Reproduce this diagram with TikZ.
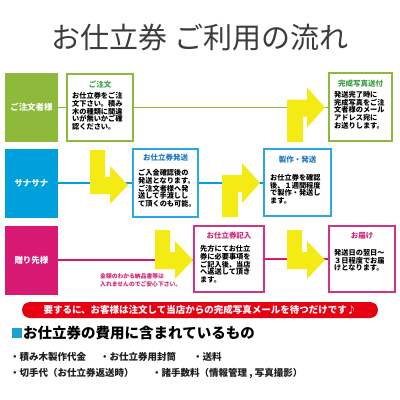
\documentclass[tikz,border=0pt]{standalone}
\usepackage{fontspec}
\setmainfont{Noto Sans CJK JP}
\definecolor{cgreen}{RGB}{141,186,58}
\definecolor{cgreenb}{RGB}{141,186,58}
\definecolor{cgreent}{RGB}{60,160,70}
\definecolor{cblue}{RGB}{0,160,220}
\definecolor{cblueb}{RGB}{40,170,225}
\definecolor{cbluet}{RGB}{30,120,190}
\definecolor{cmag}{RGB}{215,25,115}
\definecolor{cmagb}{RGB}{210,50,130}
\definecolor{cmagt}{RGB}{210,40,120}
\definecolor{cyel}{RGB}{245,235,20}
\definecolor{cred}{RGB}{230,0,18}
\definecolor{csq}{RGB}{30,160,210}
\definecolor{ctitle}{RGB}{60,60,60}
\definecolor{clist}{RGB}{30,30,30}
\newcommand\arrdown[3]{% stem left x, stem top y, centre y
  \fill[cyel] (#1,#2) -- (#1,{#3+9}) -- ({#1+20},{#3+9}) -- ({#1+20},{#3+19}) -- ({#1+38},#3) -- ({#1+20},{#3-19}) -- ({#1+20},{#3-8}) -- ({#1+15},{#3-8}) -- ({#1+15},#2) -- cycle;}
\newcommand\arrup[3]{% stem left x, stem bottom y, centre y
  \fill[cyel] (#1,#2) -- (#1,{#3-8}) -- ({#1+20},{#3-8}) -- ({#1+20},{#3-20}) -- ({#1+38},#3) -- ({#1+20},{#3+20}) -- ({#1+20},{#3+9}) -- ({#1+16},{#3+9}) -- ({#1+16},#2) -- cycle;}
\begin{document}
\begin{tikzpicture}[x=1pt,y=-1pt,
  lab/.style={rectangle, inner sep=0, text=white, font=\bfseries\fontsize{8.5}{10}\selectfont, minimum width=53pt, minimum height=69pt},
  box/.style={rectangle, line width=1.8pt, fill=white, inner sep=0},
  ttl/.style={font=\bfseries\fontsize{7.5}{9}\selectfont, inner sep=0},
  bodytxt/.style={font=\bfseries\fontsize{7.2}{7.8}\selectfont, align=left, inner sep=0, anchor=north west, text=black},
  gline/.style={draw=cgreen, line width=1.4pt},
  bline/.style={draw=cblue, line width=1.4pt},
  mline/.style={draw=cmag, line width=1.4pt},
  listtxt/.style={font=\bfseries\fontsize{9.5}{11}\selectfont, text=clist, anchor=west, inner sep=0}]
\useasboundingbox (0,0) rectangle (400,400);
\fill[white] (0,0) rectangle (400,400);
% title
\node[font=\fontsize{29}{32}\selectfont, text=ctitle, inner sep=0] (title) at (200,38) {お仕立券 ご利用の流れ};
% labels
\node[lab, fill=cgreen] (l1) at (31.5,107.5) {ご注文者様};
\node[lab, fill=cblue] (l2) at (31.5,183) {サナサナ};
\node[lab, fill=cmag] (l3) at (31.5,260) {贈り先様};
% boxes (shapes only, for connectors)
\node[box, draw=cgreenb, minimum width=66pt, minimum height=67pt] (b1) at (100,107.5) {};
\node[box, draw=cgreenb, minimum width=63pt, minimum height=68pt] (b2) at (360.5,107) {};
\node[box, draw=cblueb, minimum width=65pt, minimum height=68pt] (b3) at (165.5,183) {};
\node[box, draw=cblueb, minimum width=67pt, minimum height=67pt] (b4) at (297.5,182.5) {};
\node[box, draw=cmagb, minimum width=70pt, minimum height=66pt] (b5) at (229,259) {};
\node[box, draw=cmagb, minimum width=66pt, minimum height=66pt] (b6) at (362,259) {};
% connectors
\draw[gline] (l1.east) -- (l1.east -| b1.west);
\draw[gline] (b1.east) -- (b1.east -| b2.west);
\draw[bline] (l2.east) -- (l2.east -| b3.west);
\draw[bline] (b3.east) -- (b3.east -| b4.west);
\draw[mline] (l3.east) -- (l3.east -| b5.west);
\draw[mline] (b5.east) -- (b5.east -| b6.west);
% yellow turn arrows
\arrup{287}{142}{107.5}
\arrdown{90}{150}{185}
\arrup{222}{217}{183}
\arrdown{155}{230}{260}
\arrdown{287}{230}{260}
% box titles
\node[ttl, text=cgreent] (t1) at (100,85) {ご注文};
\node[ttl, text=cgreent] (t2) at (360.5,84) {完成写真送付};
\node[ttl, text=cbluet] (t3) at (165.5,158) {お仕立券発送};
\node[ttl, text=cbluet] (t4) at (297.5,160) {製作・発送};
\node[ttl, text=cmagt] (t5) at (229,236) {お仕立券記入};
\node[ttl, text=cmagt] (t6) at (362,236) {お届け};
% box bodies
\node[bodytxt] (x1) at (72,92) {お仕立券をご注\\文下さい。積み\\木の種類に間違\\いが無いかご確\\認ください。};
\node[bodytxt] (x2) at (334,91) {発送完了時に\\完成写真をご注\\文者様のメール\\アドレス宛に\\お送りします。};
\node[bodytxt] (x3) at (138,169) {ご入金確認後の\\発送となります。\\ご注文者様へ発\\送して手渡しし\\て頂くのも可能。};
\node[bodytxt] (x4) at (270,174) {お仕立券を確認\\後、１週間程度\\で製作・発送し\\ます。};
\node[bodytxt] (x5) at (200,245) {先方にてお仕立\\券に必要事項を\\ご記入後、当店\\へ返送して頂き\\ます。};
\node[bodytxt] (x6) at (334,249) {発送日の翌日～\\３日程度でお届\\けとなります。};
% note
\node[font=\bfseries\fontsize{5.8}{8}\selectfont, text=cmagt, align=left, anchor=north west, inner sep=0] (note) at (100,273) {金額のわかる納品書等は\\入れませんのでご安心下さい。};
% banner
\node[rectangle, rounded corners=8pt, fill=cred, minimum width=356pt, minimum height=16pt, inner sep=0, text=white, font=\bfseries\fontsize{9.5}{11}\selectfont] (banner) at (200,310) {要するに、お客様は注文して当店からの完成写真メールを待つだけです♪};
% bottom section
\node[rectangle, fill=csq, minimum width=10pt, minimum height=10pt, inner sep=0] (sq) at (17,333) {};
\node[font=\bfseries\fontsize{14.5}{16}\selectfont, text=black, anchor=west, inner sep=0] (head) at (23,333) {お仕立券の費用に含まれているもの};
\node[listtxt] (i1) at (10,357) {・積み木製作代金};
\node[listtxt] (i2) at (100,357) {・お仕立券用封筒};
\node[listtxt] (i3) at (193,357) {・送料};
\node[listtxt] (i4) at (10,373) {・切手代（お仕立券返送時）};
\node[listtxt] (i5) at (152,373) {・諸手数料（情報管理 , 写真撮影）};
\end{tikzpicture}
\end{document}
